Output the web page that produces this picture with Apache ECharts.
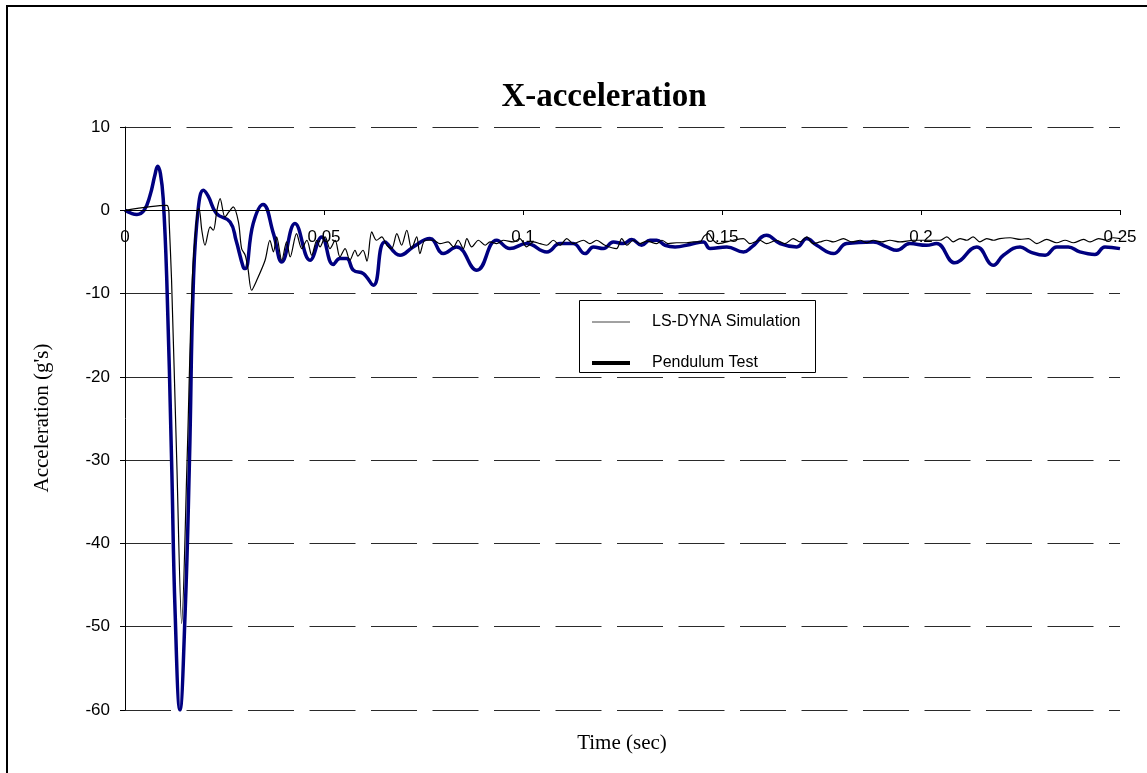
<!DOCTYPE html>
<html>
<head>
<meta charset="utf-8">
<script src="https://cdn.jsdelivr.net/npm/echarts@6/dist/echarts.min.js"></script>
<style>
html,body{margin:0;padding:0;background:#fff;}
#chart{width:1147px;height:773px;}
</style>
</head>
<body>
<div id="chart"></div>
<script>
// ---- data ----
var chartTitle = 'X-acceleration';
var xAxisTitle = 'Time (sec)';
var yAxisTitle = "Acceleration (g's)";
var seriesNames = ['LS-DYNA Simulation', 'Pendulum Test'];

var xTickValues = [0, 0.05, 0.1, 0.15, 0.2, 0.25];
var xTickLabels = ['0', '0.05', '0.1', '0.15', '0.2', '0.25'];
var yTickValues = [-60, -50, -40, -30, -20, -10, 0, 10];
var yTickLabels = ['-60', '-50', '-40', '-30', '-20', '-10', '0', '10'];

var testTime = [0, 0.0015, 0.003, 0.0048, 0.0063, 0.0075, 0.0082, 0.0089, 0.0096, 0.0105,
  0.0117, 0.0126, 0.0138, 0.0151, 0.0162, 0.0172, 0.0184, 0.0197, 0.0209, 0.0230,
  0.0264, 0.0279, 0.0297, 0.0302, 0.0322, 0.0347, 0.0373, 0.0394, 0.0427, 0.0465,
  0.0494, 0.0523, 0.0540, 0.0557, 0.0574, 0.0599, 0.0624, 0.0653, 0.0691, 0.0724,
  0.0766, 0.0800, 0.0833, 0.0884, 0.0934, 0.0967, 0.1009, 0.1060, 0.1093, 0.1126,
  0.1156, 0.1177, 0.1202, 0.1227, 0.1252, 0.1273, 0.1298, 0.1319, 0.1336, 0.1357,
  0.1382, 0.1420, 0.1453, 0.1470, 0.1512, 0.1554, 0.1575, 0.1612, 0.1646, 0.1688,
  0.1713, 0.1738, 0.1780, 0.1813, 0.1880, 0.1914, 0.1939, 0.1972, 0.2014, 0.2039,
  0.2085, 0.2140, 0.2182, 0.2207, 0.2249, 0.2274, 0.2312, 0.2341, 0.2370, 0.2399,
  0.2437, 0.2462, 0.2500];
var testAccel = [0, -0.35, -0.5, 0, 1.8, 4.2, 5.3, 4.4, 1.4, -8.4,
  -30, -48.4, -60, -48.4, -30, -8.4, 0.2, 2.4, 1.7, -0.4,
  -1.4, -3.6, -6.8, -7.0, -1.6, 0.7, -2.8, -6.2, -1.6, -6.0,
  -3.2, -6.5, -5.8, -5.8, -7.2, -7.6, -9.0, -3.8, -5.4, -4.4,
  -3.4, -5.2, -4.4, -7.2, -3.6, -4.6, -4.0, -5.0, -4.0, -4.0,
  -5.2, -4.4, -4.6, -3.8, -4.0, -3.5, -4.2, -3.6, -3.6, -4.2,
  -4.4, -4.1, -3.8, -4.6, -4.4, -5.0, -4.4, -3.0, -4.0, -4.4,
  -3.4, -4.2, -5.2, -4.0, -3.8, -4.4, -4.8, -4.0, -4.2, -4.0,
  -6.3, -4.4, -6.6, -5.4, -4.4, -5.0, -5.4, -4.4, -4.4, -5.0,
  -5.3, -4.4, -4.6];

var simTime = [0, 0.0105, 0.0110, 0.0111, 0.0117, 0.0130, 0.01425, 0.0156, 0.0169, 0.0182,
  0.0186, 0.0193, 0.0201, 0.0214, 0.0222, 0.0231, 0.0239, 0.0251, 0.0261, 0.0272,
  0.0285, 0.0293, 0.0302, 0.0309, 0.0318, 0.0331, 0.0352, 0.0364, 0.0373, 0.0381,
  0.0394, 0.0406, 0.0415, 0.0431, 0.0444, 0.0457, 0.0469, 0.0482, 0.0490, 0.0503,
  0.0515, 0.0528, 0.0540, 0.0553, 0.0565, 0.0578, 0.0585, 0.0598, 0.0608, 0.0620,
  0.0632, 0.0645, 0.0658, 0.0670, 0.0683, 0.0695, 0.0708, 0.0720, 0.0733, 0.0741,
  0.0754, 0.0775, 0.0791, 0.0812, 0.0825, 0.0837, 0.0850, 0.0859, 0.0871, 0.0888,
  0.0905, 0.0917, 0.0934, 0.0950, 0.0976, 0.0992, 0.1009, 0.1026, 0.1043, 0.1060,
  0.1076, 0.1093, 0.1110, 0.1126, 0.1152, 0.1168, 0.1185, 0.1206, 0.1235, 0.1248,
  0.1261, 0.1277, 0.1294, 0.1311, 0.1336, 0.1349, 0.1365, 0.1386, 0.1411, 0.1428,
  0.1445, 0.1455, 0.1466, 0.1478, 0.1491, 0.1528, 0.1554, 0.1570, 0.1595, 0.1612,
  0.1637, 0.1658, 0.1679, 0.1696, 0.1713, 0.1729, 0.1746, 0.1763, 0.1780, 0.1805,
  0.1826, 0.1847, 0.1864, 0.1880, 0.1901, 0.1922, 0.1947, 0.1981, 0.2014, 0.2048,
  0.2065, 0.2081, 0.2098, 0.2115, 0.2131, 0.2148, 0.2165, 0.2182, 0.2198, 0.2224,
  0.2249, 0.2270, 0.2291, 0.2316, 0.2341, 0.2362, 0.2383, 0.2408, 0.2425, 0.2446,
  0.2466, 0.2483, 0.2500];
var simAccel = [0, 0.6, 0, -1.4, -8.4, -30, -49.6, -30, -8.4, 0,
  0.2, -2.4, -4.2, -2.0, -2.4, 0, 1.4, -0.8, -0.2, 0.4,
  -1.4, -4.6, -5.4, -7.0, -9.6, -8.4, -6.0, -3.6, -5.0, -3.2,
  -6.0, -3.8, -5.6, -2.8, -4.6, -3.6, -5.4, -3.6, -4.4, -3.2,
  -4.6, -3.6, -5.6, -4.6, -6.0, -4.8, -5.5, -4.8, -6.1, -2.6,
  -3.6, -3.2, -4.2, -4.6, -2.8, -4.2, -2.4, -4.6, -3.2, -5.2,
  -3.6, -3.6, -4.0, -3.8, -4.4, -3.6, -4.6, -3.4, -4.4, -3.6,
  -4.2, -3.8, -4.0, -3.6, -3.8, -3.4, -4.4, -3.8, -4.0, -4.2,
  -3.6, -4.2, -3.4, -4.0, -3.6, -4.0, -3.6, -4.2, -4.6, -3.4,
  -4.2, -3.6, -4.0, -3.7, -4.0, -3.6, -4.0, -3.9, -3.9, -3.8,
  -3.8, -3.1, -2.8, -3.6, -4.0, -3.6, -3.4, -4.0, -3.6, -4.0,
  -3.6, -4.0, -3.4, -3.8, -3.2, -4.0, -3.8, -3.6, -3.8, -3.4,
  -3.8, -3.6, -3.9, -3.6, -3.8, -3.6, -3.8, -3.6, -3.6, -3.6,
  -3.2, -3.8, -3.4, -3.6, -3.2, -3.8, -3.4, -3.6, -3.4, -3.3,
  -3.5, -3.4, -4.0, -3.5, -3.9, -3.6, -3.9, -3.5, -3.8, -3.4,
  -3.6, -3.3, -3.4];

function pairs(xs, ys) { return xs.map(function (x, i) { return [x, ys[i]]; }); }

var chart = echarts.init(document.getElementById('chart'), null, {renderer: 'canvas'});
var sans = 'Liberation Sans, Arial, sans-serif';
var serif = 'Liberation Serif, Times New Roman, serif';

var gridTop = 127, gridHeight = 583;
var yMin = yTickValues[0], yMax = yTickValues[yTickValues.length - 1];
// shift the x axis (line, ticks, labels) from the grid bottom up to y = 0
var xAxisOffset = -Math.round(gridHeight * (0 - yMin) / (yMax - yMin));

var option = {
  backgroundColor: '#ffffff',
  animation: false,
  title: {
    text: chartTitle,
    left: 599,
    top: 76,
    textAlign: 'center',
    textStyle: {fontFamily: serif, fontWeight: 'bold', fontSize: 33, color: '#000'}
  },
  legend: {
    orient: 'vertical',
    left: 590,
    top: 314,
    padding: 0,
    z: 20,
    itemWidth: 38,
    itemHeight: 16,
    itemGap: 25,
    textStyle: {fontFamily: sans, fontSize: 16, color: '#000', padding: [0, 0, 0, 17]},
    data: [
      {name: seriesNames[0], lineStyle: {color: '#444', width: 1}, itemStyle: {opacity: 0}},
      {name: seriesNames[1], lineStyle: {color: '#000', width: 4}, itemStyle: {opacity: 0}}
    ]
  },
  grid: {left: 125, top: gridTop, right: 27, height: gridHeight, containLabel: false},
  xAxis: {
    type: 'value',
    min: xTickValues[0],
    max: xTickValues[xTickValues.length - 1],
    interval: 0.05,
    position: 'bottom',
    offset: xAxisOffset,
    axisLine: {onZero: false, lineStyle: {color: '#000', width: 1}},
    axisTick: {show: true, inside: false, length: 5, lineStyle: {color: '#000'}},
    axisLabel: {
      margin: 19,
      fontFamily: sans, fontSize: 17, color: '#000',
      formatter: function (v) {
        var i = Math.round(v / 0.05);
        return xTickLabels[i] !== undefined ? xTickLabels[i] : '';
      }
    },
    splitLine: {show: false},
    z: 4
  },
  yAxis: {
    type: 'value',
    min: yMin,
    max: yMax,
    interval: 10,
    axisLine: {show: true, onZero: false, lineStyle: {color: '#000', width: 1}},
    axisTick: {show: true, inside: false, length: 5, lineStyle: {color: '#000'}},
    axisLabel: {
      margin: 15,
      fontFamily: sans, fontSize: 17, color: '#000',
      formatter: function (v) {
        var i = Math.round((v - yMin) / 10);
        return yTickLabels[i] !== undefined ? yTickLabels[i] : '';
      }
    },
    splitLine: {show: true, lineStyle: {color: '#2a2a2a', width: 1, type: [46, 15.5]}}
  },
  graphic: [
    {type: 'rect', shape: {x: 7, y: 6, width: 1300, height: 900}, style: {fill: 'none', stroke: '#000', lineWidth: 2}, silent: true, z: -1},
    {type: 'rect', shape: {x: 579.5, y: 300.5, width: 236, height: 72}, style: {fill: '#fff', stroke: '#000', lineWidth: 1}, z: 10},
    {type: 'text', x: 622, y: 743, style: {text: xAxisTitle, font: '21px ' + serif, fill: '#000', textAlign: 'center', textVerticalAlign: 'middle'}},
    {type: 'text', x: 42, y: 418, rotation: Math.PI / 2, style: {text: yAxisTitle, font: '21px ' + serif, fill: '#000', textAlign: 'center', textVerticalAlign: 'middle'}}
  ],
  series: [
    {
      name: seriesNames[1],
      type: 'line',
      data: pairs(testTime, testAccel),
      symbol: 'none',
      smooth: 0.45,
      lineStyle: {color: '#000080', width: 3.5},
      itemStyle: {color: '#000080'},
      z: 2
    },
    {
      name: seriesNames[0],
      type: 'line',
      data: pairs(simTime, simAccel),
      symbol: 'none',
      smooth: 0.3,
      lineStyle: {color: '#000', width: 1.2},
      itemStyle: {color: '#000'},
      z: 3
    }
  ]
};
chart.setOption(option);
</script>
</body>
</html>
